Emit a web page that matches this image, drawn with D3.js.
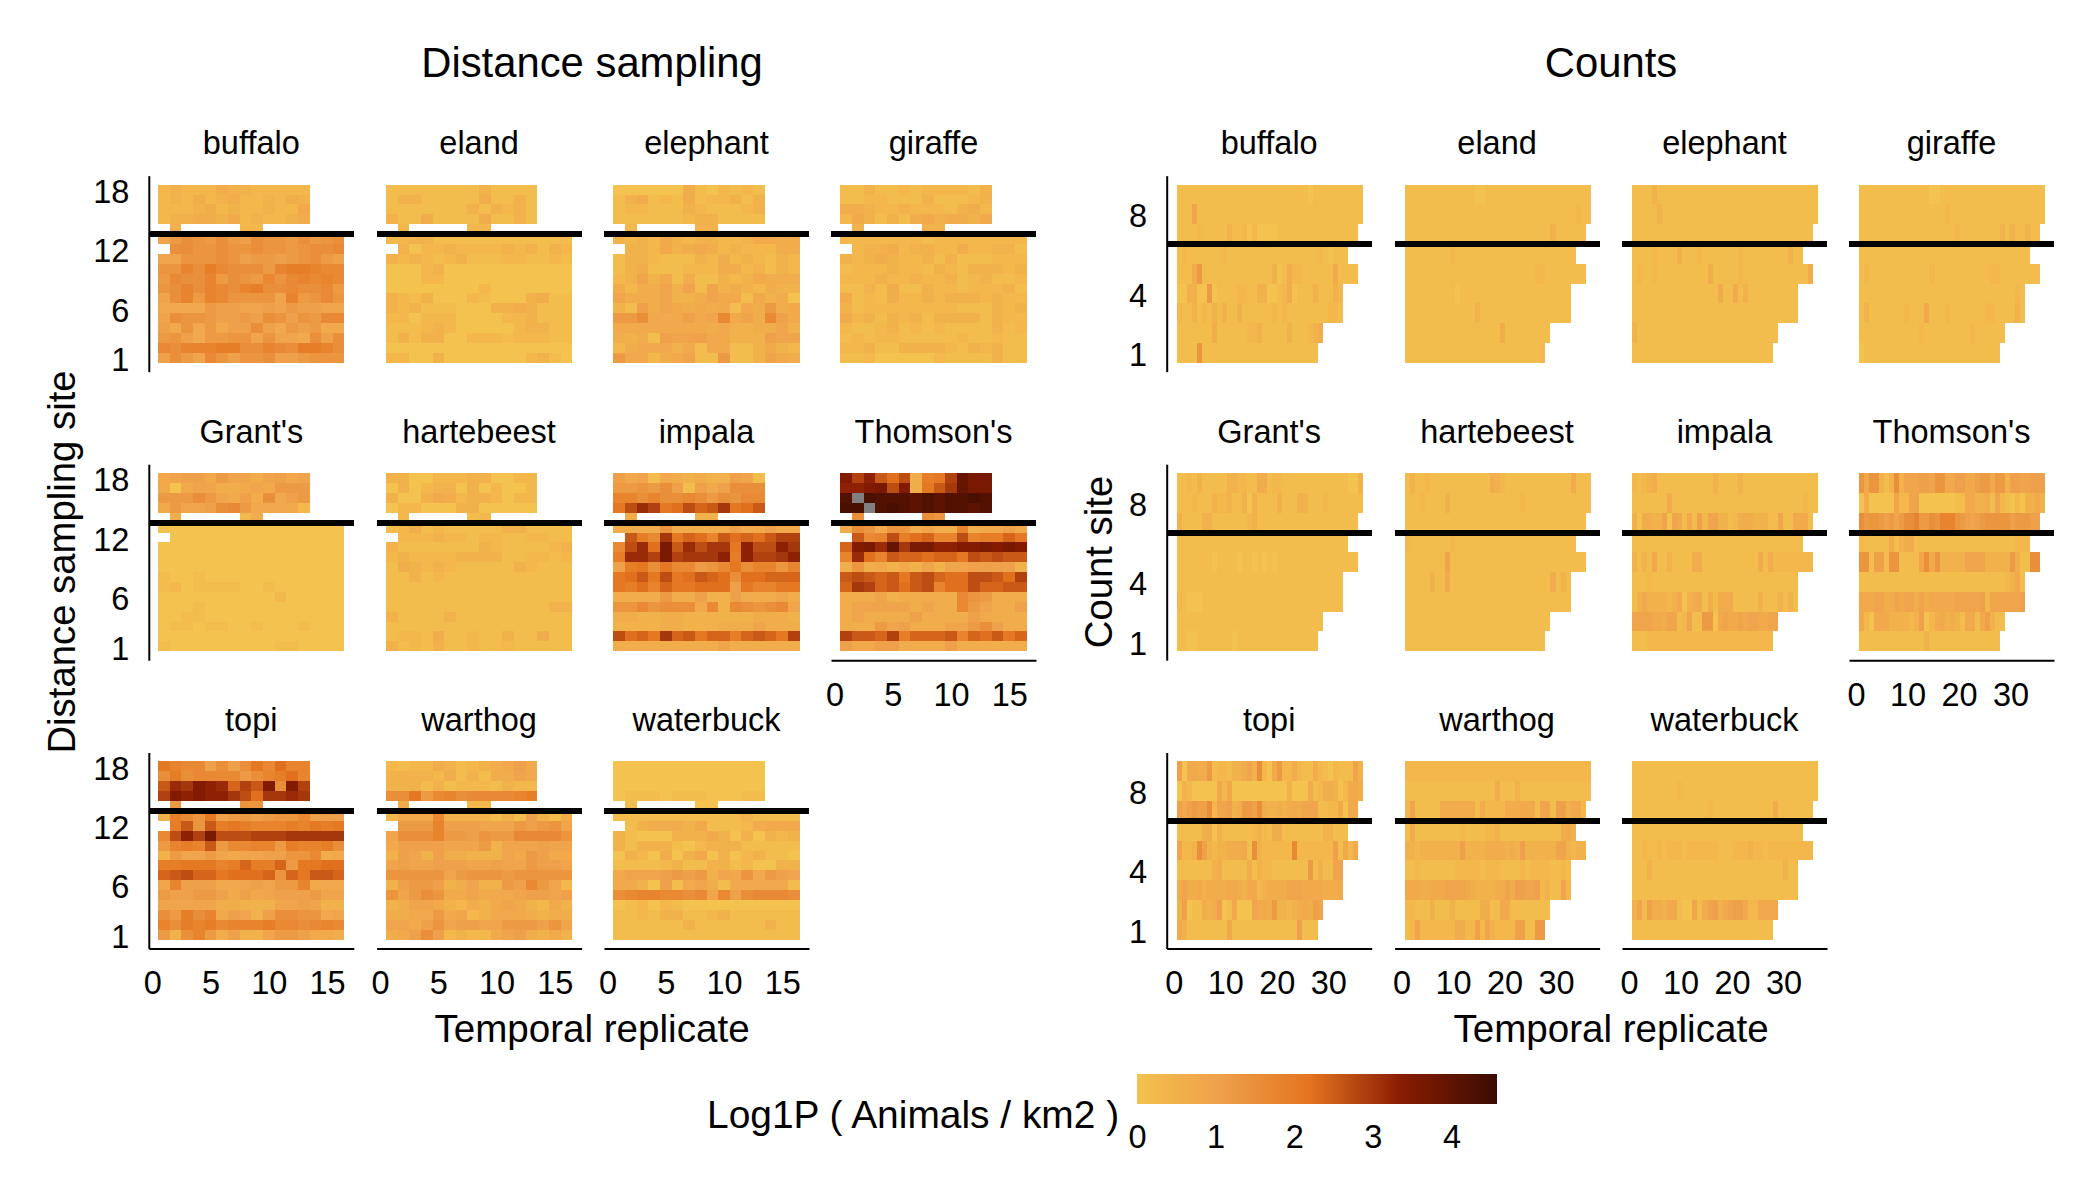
<!DOCTYPE html>
<html>
<head>
<meta charset="utf-8">
<script src="https://cdnjs.cloudflare.com/ajax/libs/d3/7.8.5/d3.min.js"></script>
<style>
  body { margin: 0; background: #fff; }
  text { font-family: "Liberation Sans", Arial, sans-serif; fill: #000; }
  .axis path { stroke: #000; stroke-width: 2px; }
  .axis text { font-size: 32.5px; font-family: "Liberation Sans", Arial, sans-serif; }
</style>
</head>
<body>
<svg id="chart" width="2100" height="1200"></svg>
<script>
"use strict";

var speciesNames = ["buffalo", "eland", "elephant", "giraffe", "Grant's", "hartebeest", "impala", "Thomson's", "topi", "warthog", "waterbuck"];

var distanceTicksX = [0, 5, 10, 15];
var distanceTicksY = [1, 6, 12, 18];
var countTicksX = [0, 10, 20, 30];
var countTicksY = [1, 4, 8];
var legendTicks = [0, 1, 2, 3, 4];

// One character per cell, top row first. Base 36, in steps of 0.15 log1p units.
// "." = no survey, "_" = survey with no value (grey)
var distBuffalo = ["2322243322222", "2324234223243", "2223423223225", "2334435232234", ".3.....22", "68a98a87a998a89a", ".aa99a99a9989aab", "66999a9788789a87", "99cadbaaa8cddcbb", "8baac8a98b9bcbcb", "9acacbacdaabaab8", "6ac8cb99996c89b9", "5555877667687766", "6a9987787a9798bb", "75958577a7587855", "8975889969665a7a", "bacccddaacbaddca", "7a86b9799a778999"];
var distEland = ["1111111131111", "1331111141131", "1111111313231", "3114111141131", ".2.....22", "2233111111111111", ".302232222323132", "3232123111221121", "0002300000000000", "0002200000000000", "0000000020000000", "3213000210003411", "3231110003343111", "2202220000223111", "1112320000023311", "1313300222122211", "0000000000000000", "2200300000002310"];
var distElephant = ["0000004102121", "1341214122313", "1221113211123", "1111112331111", ".2.....33", "3232532332235544", ".332534542322244", "1332111324232132", "1341112224423132", "2363514113235444", "4244636163432433", "6444633465515340", "3174654545154845", "88a555756b564b75", "5555555545334463", "4341766755333766", "2455535155113532", "8552456118113654"];
var distGiraffe = ["1131121222213", "1122111311123", "4432232221342", "2531314534435", ".3.....33", "2222222122222222", ".233423322422331", "3234322313111222", "1222322132133323", "2223223223123112", "1131411322122231", "4121422323332322", "3122222222111323", "4231323133331322", "2112312121111312", "1212211111211211", "2231133332132311", "1120000021111311"];
var distGrants = ["5677586646756", "5056644565888", "888a86574a578", "58667ab855552", ".4.....24", "0000000000000000", ".000000000000000", "0000000000000000", "0000000000000000", "0000000000000000", "1001000000000000", "1201111001000000", "0000000000200000", "0001000000000000", "0011000000000000", "0110110010001000", "0000000000000000", "1000000000110000"];
var distHartebeest = ["3300222330022", "0302330302002", "3003542332022", "0220003300000", ".2.....12", "1241211111331111", ".222322122112211", "3111111132111123", "2322223333112212", "1432321111132111", "1131211111111111", "1111111111111111", "1111111111111111", "1111111111111133", "3111131111111111", "1111111111111111", "1221411211311411", "3121311211211111"];
var distImpala = ["7561543433761", "8898a71757aaa", "ccacaaba8a9bb", "eiljefighkefh", ".4.....33", "4444944444755755", ".hdbkegfchfgfhjj", "bilfohlikkemiimk", "dlljojkkkmdmjjkm", "7deaebb89beacc9c", "efheiefhgfaffggg", "edfcgeefff7eccee", "4444844733744464", "99b9aaa5b3ba9ab6", "4433443333334443", "3333443334446444", "ifgekgheggdghgej", "4444444446444444"];
var distThomsons = ["njmhfi4dejqoo", "mmnoin4ehkqoo", "s_tsssrsrssts", "tt_stsrsrssrs", ".a.....a9", "4a95994644c45575", ".hbcidfgccicddge", "gnolqkoommnnonon", "clfchggfggeihihh", "4945353636677773", "hihghehigffiihfj", "gkjghfhicffigghh", "4446344444b98444", "4666664644b86447", "4644447444475444", "444867444668a744", "jhhgjdggghcgfheg", "7557744447444444"];
var distTopi = ["ecbb7a7aebfcc", "adabbbb8acdfc", "hlknmlgjhnanj", "jnmnmmkifkklk", ".8.....99", "3db9e7887899b777", ".dh9hdedcccdcede", "bimjoiiijjjkkkkk", "8cdch8bbcc8dccda", "3866865667799b45", "ddeeecdgddg8eeff", "ghiggefffg9gehhg", "6c7775567688c555", "8778875756777866", "6666644333667633", "a8dac57637aa9956", "cadcdbcccdbbabcb", "83ac847336887554"];
var distWarthog = ["2122431234575", "3333241314465", "3331312221322", "aae8bcabbbbcd", ".4.....22", "2555b33331317314", ".888c77766687896", "6aaac887988bbbb9", "5777766683666766", "3763744333658755", "6766777667668776", "9999968999899999", "378873463387b862", "968a955655567767", "3466532435653253", "4455856235554344", "6657967766888796", "457a723225674353"];
var distWaterbuck = ["0000000000000", "0000000000000", "0000000000000", "0111011100011", ".1.....00", "1111111111131111", ".134443511124555", "3100033353030323", "3133310233311111", "0320403503023110", "1111231133120033", "5666787836595876", "5530715641555551", "abccbbab6b7abbba", "0120210000000000", "1121331123111111", "1111113111111311", "1111111111111111"];

var countBuffalo = ["1111111111 1111111111 1111110111 1111111", "1116111111 1111111111 1111111111 1111111", "1111211111 3112020000 1111111111 111111", "1211111112 1111111111 1111111121 0111", "1114811111 1111111113 0142211111 141111", "0033008011 1122113300 1240111311 132", "2113121313 1131111112 1211111111 221", "1111111411 1111223111 113111234", "1111911111 1111111111 11111111"];
var countEland = ["1111111111 1111001111 1111111111 1111111", "1111111111 1111111111 1111111111 1111211", "1111111111 1111111111 1111111113 111111", "1111111112 1111111111 1111111111 1111", "1111111111 1111111111 1111112211 111111", "1111111111 0111111111 1111111111 111", "1111111111 1111311111 1111111111 111", "1111111111 1111111114 111111111", "1111111111 1111111111 11111112"];
var countElephant = ["1111311111 1111111111 1111111111 1111111", "1111131111 1111111111 1111111111 1111111", "1111111111 1111111111 1111111111 111111", "1111211113 1112111111 1211111111 1311", "1211211111 1111141111 1211111111 111114", "1111111111 1111111411 4131111111 111", "1111111111 1111111111 1111111111 111", "3111111111 1111111111 111111111", "1111111111 1111111111 11111111"];
var countGiraffe = ["1111111111 1111001111 1111111111 1111111", "1111111111 1111111211 1111111111 1111111", "1111111111 1111111112 1111111131 311311", "1111111111 1111111111 1111111111 1111", "1211111111 1111211111 1111112211 111111", "1111111111 1111111111 1111111111 121", "1311111112 1115111211 1111122111 131", "1111111111 1121111111 112111111", "0111111111 1111111111 11111111"];
var countGrants = ["1121311111 3322114412 2111111111 1111003", "1112111322 3113031111 3111331112 1111111", "3111133111 1111231111 1111111111 111111", "1111111111 1111111111 1111111111 1111", "1111111011 1101101010 1111111111 111111", "1111111111 1111111111 1111111111 111", "2100011111 1111111111 1111111111 111", "1111111111 1111111111 111111111", "1100111111 1011111111 11111111"];
var countHartebeest = ["1311211111 1111111432 1111111111 1114111", "1112111131 1111111111 1112111111 1111111", "1111111111 1111111111 1111111111 111111", "2111111112 1111111111 1111111111 1111", "1111111161 1111111111 1111111111 111111", "1111131141 1111111111 1111111114 131", "1111111111 1111111111 1111111111 111", "1111111111 1111111111 111111111", "1111111111 1111111111 11111111"];
var countImpala = ["2123411111 1111113111 1311111111 1111111", "1111111411 1111111111 1111111111 1111211", "3044336065 1517266331 2444333116 115551", "1111111111 1111111111 1111111111 1111", "3131511311 1144111111 1111141422 222222", "1112111111 1111111111 1111111111 111", "1353333235 0345141444 1111131113 131", "6666554661 2611880565 565665566", "1112222222 2222222222 22222222"];
var countThomsons = ["9599313a36 6677699557 7557885883 7766777", "0400000622 6600000001 1553341621 0203353", "a89987868a ac88a9ccc9 8767899999 788877", "2111114134 4111111111 1111111111 1222", "9917719911 116a593333 3666633333 8411aa", "1111111111 1111111111 1111111112 351", "5556644656 6464555556 6666726666 667", "5205553333 2370245343 155157311", "1111111111 1113111111 11111111"];
var countTopi = ["7055448122 133463a205 8224211421 0211163", "0320000052 5000000000 0030004124 4302554", "757877a266 734887a433 4345466611 225055", "1111134031 1111123214 4111111113 3111", "6223a73233 44451a3222 222b222222 271525", "1111111341 1111413221 1111118131 166", "4644534444 5543552344 4466655554 445", "3701143470 1500065548 332345476", "5311111111 5111111111 11117111"];
var countWarthog = ["2222222222 2222222222 2222222222 2222222", "1111111111 1111111141 1131111111 1111111", "2611111444 4444142222 4445551661 773552", "1511111111 1211112231 1111111111 1453", "3323333333 3733334444 3437333333 663233", "1121111111 2222212221 1112122221 121", "5554455566 6654333344 6477667231 162", "2211131113 1111144115 511111111", "1262222222 4422726322 22771188"];
var countWaterbuck = ["1111111111 1111111111 1111111111 1111111", "1111111112 1111111111 1111111111 1111111", "1111111111 1111121111 1111111141 111111", "1111111111 1111111111 1111111111 1111", "1121121222 1222222111 2223221222 222222", "1113111111 1111111111 1111111111 311", "1111111111 1111111111 1111111111 111", "3617443551 0061467356 775225555", "1111111111 1111111111 11111111"];

var distancePanels = [distBuffalo, distEland, distElephant, distGiraffe, distGrants, distHartebeest, distImpala, distThomsons, distTopi, distWarthog, distWaterbuck];
var countPanels = [countBuffalo, countEland, countElephant, countGiraffe, countGrants, countHartebeest, countImpala, countThomsons, countTopi, countWarthog, countWaterbuck];

var STEP = 0.15;
var PANEL_W = 205;
var PANEL_H = 196;
var rowTops = [175.7, 464.2, 752.5];
var LEGEND_MAX = 4.58;

var color = d3.scaleLinear()
    .domain([0, 0.5, 1, 2.2, 3.35, LEGEND_MAX])
    .range(["#F4C24E", "#F2B04B", "#EFA24C", "#E4741F", "#8A1C03", "#3A0C00"]);

var svg = d3.select("#chart");

// Turn the row strings into cell records
function decode(rows) {
    var cells = [];
    rows.forEach(function(row, r) {
        row.replace(/ /g, "").split("").forEach(function(ch, c) {
            if (ch === ".") return;
            cells.push({
                col: c,
                row: rows.length - r,
                value: ch === "_" ? null : parseInt(ch, 36) * STEP
            });
        });
    });
    return cells;
}

function drawGroup(opts) {
    opts.panels.forEach(function(rows, i) {
        var rowIdx = Math.floor(i / 4);
        var left = opts.lefts[i % 4];
        var top = rowTops[rowIdx];

        var x = d3.scaleLinear().domain(opts.xDomain).range([left, left + PANEL_W]);
        var y = d3.scaleLinear().domain(opts.yDomain).range([top + PANEL_H, top]);

        // left edge of a column, in replicate units
        var edge = function(c) { return opts.colStart + c * opts.colWidth; };

        var g = svg.append("g");

        g.selectAll("rect")
            .data(decode(rows))
            .enter()
            .append("rect")
            .attr("x", function(d) { return x(edge(d.col)); })
            .attr("width", function(d) { return x(edge(d.col + 1)) - x(edge(d.col)); })
            .attr("y", function(d) { return y(d.row + 0.5); })
            .attr("height", function(d) { return y(d.row - 0.5) - y(d.row + 0.5); })
            .attr("shape-rendering", "crispEdges")
            .attr("fill", function(d) { return d.value === null ? "#808080" : color(d.value); });

        g.append("line")
            .attr("x1", left)
            .attr("x2", left + PANEL_W)
            .attr("y1", y(opts.splitAt))
            .attr("y2", y(opts.splitAt))
            .attr("stroke", "#000")
            .attr("stroke-width", 6)
            .attr("shape-rendering", "crispEdges");

        g.append("text")
            .attr("x", left + PANEL_W / 2)
            .attr("y", top - 21.3)
            .attr("text-anchor", "middle")
            .attr("font-size", 32.5)
            .text(speciesNames[i]);

        if (i % 4 === 0) {
            var yAxis = g.append("g")
                .attr("class", "axis")
                .attr("transform", "translate(" + left + ",0)")
                .call(d3.axisLeft(y).tickValues(opts.yTicks).tickSize(0).tickPadding(19.5));
            yAxis.selectAll("text").attr("dy", "0.39em");
        }

        if (i >= 7) {
            g.append("g")
                .attr("class", "axis")
                .attr("transform", "translate(0," + (top + PANEL_H) + ")")
                .call(d3.axisBottom(x).tickValues(opts.xTicks).tickSize(0).tickPadding(22.5));
        }
    });

    svg.append("text")
        .attr("x", opts.titleX)
        .attr("y", 76.8)
        .attr("text-anchor", "middle")
        .attr("font-size", 41.8)
        .text(opts.title);

    svg.append("text")
        .attr("x", opts.titleX)
        .attr("y", 1042)
        .attr("text-anchor", "middle")
        .attr("font-size", 38.6)
        .text("Temporal replicate");

    svg.append("text")
        .attr("transform", "translate(" + opts.yTitleX + ",562) rotate(-90)")
        .attr("text-anchor", "middle")
        .attr("font-size", 38.3)
        .text(opts.yTitle);
}

drawGroup({
    panels: distancePanels,
    lefts: [148.8, 376.6, 604, 831],
    xDomain: [-0.3, 17.3],
    yDomain: [-0.4, 19.4],
    colStart: 0.5,
    colWidth: 1,
    xTicks: distanceTicksX,
    yTicks: distanceTicksY,
    splitAt: 13.5,
    title: "Distance sampling",
    titleX: 592,
    yTitle: "Distance sampling site",
    yTitleX: 75
});

drawGroup({
    panels: countPanels,
    lefts: [1166.7, 1394.6, 1622, 1849],
    xDomain: [-1.36, 38.44],
    yDomain: [0.05, 9.95],
    colStart: 0.6,
    colWidth: 0.976,
    xTicks: countTicksX,
    yTicks: countTicksY,
    splitAt: 6.5,
    title: "Counts",
    titleX: 1611,
    yTitle: "Count site",
    yTitleX: 1112
});

// Legend
var legendX = d3.scaleLinear().domain([0, LEGEND_MAX]).range([1137, 1497]);

var grad = svg.append("defs").append("linearGradient").attr("id", "ramp");
color.domain().forEach(function(v, i) {
    grad.append("stop")
        .attr("offset", (v / LEGEND_MAX * 100) + "%")
        .attr("stop-color", color.range()[i]);
});

svg.append("rect")
    .attr("x", legendX(0))
    .attr("y", 1074)
    .attr("width", legendX(LEGEND_MAX) - legendX(0))
    .attr("height", 30)
    .attr("fill", "url(#ramp)");

var legendAxis = svg.append("g")
    .attr("class", "axis")
    .attr("transform", "translate(0,1104)")
    .call(d3.axisBottom(legendX).tickValues(legendTicks).tickFormat(d3.format("d")).tickSize(0).tickPadding(21));
legendAxis.select("path").remove();

svg.append("text")
    .attr("x", 707)
    .attr("y", 1128)
    .attr("font-size", 38.9)
    .text("Log1P ( Animals / km2 )");
</script>
</body>
</html>
